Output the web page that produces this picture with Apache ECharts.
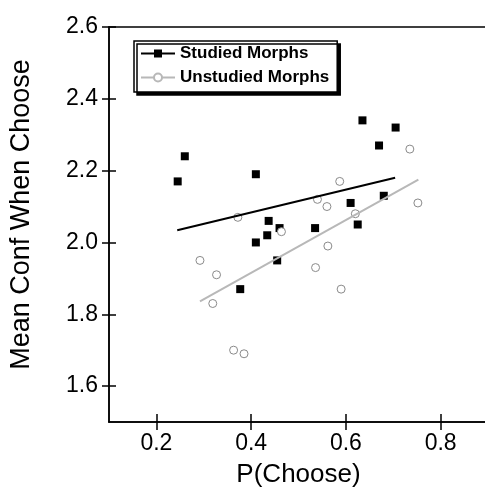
<!DOCTYPE html>
<html lang="en">
<head>
    <meta charset="utf-8">
    <title>Mean Conf When Choose</title>
    <style>
        html, body { margin: 0; padding: 0; background: #fff; }
        #chart { width: 485px; height: 489px; }
    </style>
</head>
<body>
<div id="chart"></div>
<script src="https://cdn.jsdelivr.net/npm/echarts@6/dist/echarts.min.js"></script>
<script>
    // studied morphs: [P(Choose), mean conf]
    const studied = [
        [0.245, 2.17], [0.26, 2.24], [0.41, 2.19], [0.635, 2.34],
        [0.705, 2.32], [0.67, 2.27], [0.68, 2.13], [0.61, 2.11],
        [0.437, 2.06], [0.46, 2.04], [0.535, 2.04], [0.625, 2.05],
        [0.434, 2.02], [0.41, 2.00], [0.455, 1.95], [0.377, 1.87]
    ];
    // unstudied morphs
    const unstudied = [
        [0.735, 2.26], [0.587, 2.17], [0.54, 2.12], [0.56, 2.10],
        [0.752, 2.11], [0.62, 2.08], [0.372, 2.07], [0.464, 2.03],
        [0.562, 1.99], [0.292, 1.95], [0.327, 1.91], [0.536, 1.93],
        [0.59, 1.87], [0.319, 1.83], [0.363, 1.70], [0.385, 1.69]
    ];
    // fit lines, end points
    const studiedFit = [[0.244, 2.034], [0.704, 2.18]];
    const unstudiedFit = [[0.292, 1.836], [0.753, 2.175]];

    const xTicks = [0.2, 0.4, 0.6, 0.8];
    const yTicks = [1.6, 1.8, 2.0, 2.2, 2.4, 2.6];

    const font = 'Liberation Sans, Arial, Helvetica, sans-serif';

    const chart = echarts.init(document.getElementById('chart'));

    // base axis settings, ticks crossing the line are done with a twin axis
    function xAx(extra) {
        return Object.assign({
            type: 'value', min: 0.1, max: 0.9,
            splitLine: {show: false},
            axisLine: {lineStyle: {color: '#000', width: 1.5}},
            axisTick: {show: true, length: 8, inside: false, customValues: xTicks,
                lineStyle: {color: '#000', width: 1.5}},
            axisLabel: {show: false}
        }, extra);
    }

    function yAx(extra) {
        return Object.assign({
            type: 'value', min: 1.5, max: 2.6,
            splitLine: {show: false},
            axisLine: {lineStyle: {color: '#000', width: 1.5}},
            axisTick: {show: true, length: 7, inside: false, customValues: yTicks,
                lineStyle: {color: '#000', width: 1.5}},
            axisLabel: {show: false}
        }, extra);
    }

    const option = {
        backgroundColor: '#fff',
        animation: false,
        textStyle: {fontFamily: font},
        grid: {left: 109, right: -3, top: 27, bottom: 67, containLabel: false, outerBoundsMode: 'none'},
        legend: {
            data: ['Studied Morphs', 'Unstudied Morphs'],
            orient: 'vertical',
            left: 134,
            top: 41,
            itemWidth: 34,
            itemHeight: 10,
            itemGap: 7,
            padding: [4, 8, 6, 6],
            backgroundColor: '#fff',
            borderColor: '#000',
            borderWidth: 1.5,
            borderRadius: 0,
            shadowColor: '#000',
            shadowBlur: 0,
            shadowOffsetX: 3,
            shadowOffsetY: 3,
            textStyle: {fontFamily: font, fontSize: 17, fontWeight: 'bold', color: '#000'}
        },
        xAxis: [
            xAx({
                position: 'bottom',
                name: 'P(Choose)',
                nameLocation: 'middle',
                nameGap: 40,
                nameTextStyle: {fontFamily: font, fontSize: 26, color: '#000'},
                axisLabel: {show: true, customValues: xTicks, margin: 10,
                    fontFamily: font, fontSize: 23, color: '#000',
                    formatter: v => v.toFixed(1)}
            }),
            xAx({position: 'bottom', axisTick: {show: true, length: 8, inside: true,
                customValues: xTicks, lineStyle: {color: '#000', width: 1.5}}}),
            xAx({position: 'top', axisTick: {show: false}})
        ],
        yAxis: [
            yAx({
                position: 'left',
                name: 'Mean Conf When Choose',
                nameLocation: 'middle',
                nameGap: 74,
                nameTextStyle: {fontFamily: font, fontSize: 27, color: '#000', padding: [0, 0, 0, 20]},
                axisLabel: {show: true, customValues: yTicks, margin: 11,
                    fontFamily: font, fontSize: 23, color: '#000',
                    formatter: v => v.toFixed(1)}
            }),
            yAx({position: 'left', axisTick: {show: true, length: 7, inside: true,
                customValues: yTicks, lineStyle: {color: '#000', width: 1.5}}})
        ],
        series: [
            {
                name: 'Studied Morphs',
                type: 'line',
                data: studiedFit,
                symbol: 'rect',
                showSymbol: false,
                color: '#000',
                lineStyle: {color: '#000', width: 2},
                itemStyle: {color: '#000'}
            },
            {
                name: 'Unstudied Morphs',
                type: 'line',
                data: unstudiedFit,
                symbol: 'emptyCircle',
                showSymbol: false,
                color: '#b8b8b8',
                lineStyle: {color: '#b8b8b8', width: 2},
                itemStyle: {color: '#b8b8b8'}
            },
            {
                name: 'studied points',
                type: 'scatter',
                data: studied,
                symbol: 'rect',
                symbolSize: 8,
                itemStyle: {color: '#000', opacity: 1}
            },
            {
                name: 'unstudied points',
                type: 'scatter',
                data: unstudied,
                symbol: 'circle',
                symbolSize: 8,
                itemStyle: {color: '#fff', borderColor: '#8a8a8a', borderWidth: 1, opacity: 1}
            }
        ]
    };

    chart.setOption(option);
</script>
</body>
</html>
